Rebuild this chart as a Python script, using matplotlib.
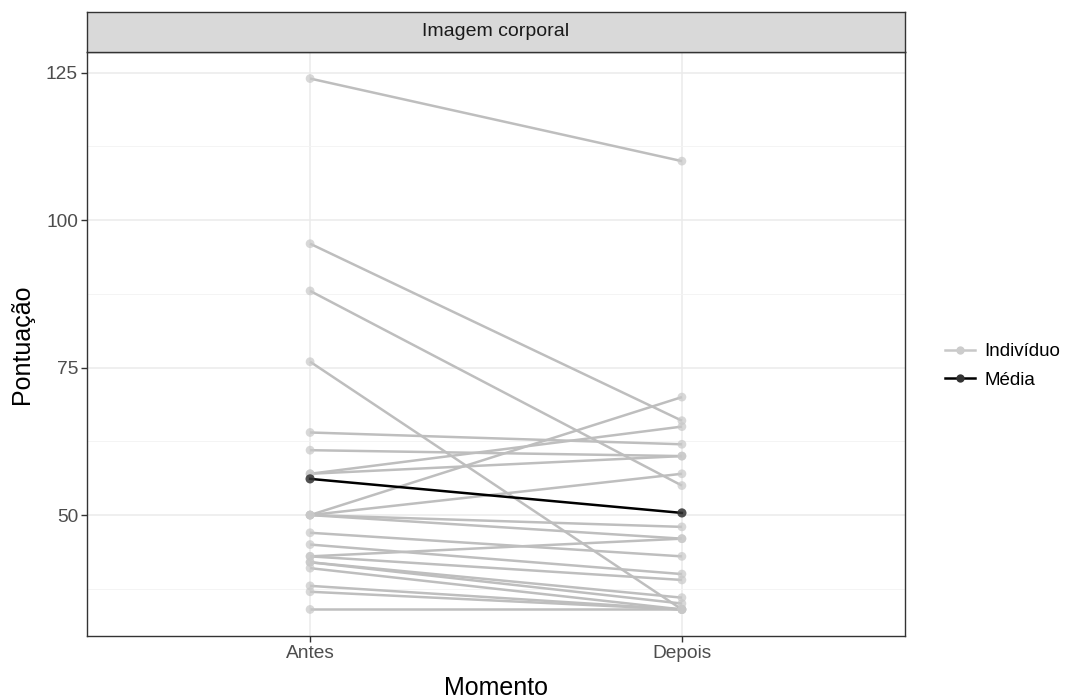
import matplotlib
matplotlib.use("Agg")
import matplotlib.pyplot as plt
from matplotlib.lines import Line2D
import numpy as np

plt.rcParams['font.family'] = ['Liberation Sans', 'DejaVu Sans']

# dados
momentos = ["Antes", "Depois"]
antes = [124, 96, 88, 76, 64, 61, 57, 57, 50, 50, 50, 50, 47, 45, 43, 43, 42, 42, 41, 38, 37, 34]
depois = [110, 66, 55, 34, 62, 60, 65, 60, 70, 57, 48, 46, 43, 40, 46, 39, 36, 35, 34, 34, 34, 34]
y_ticks = [50, 75, 100, 125]
titulo_painel = "Imagem corporal"

W, H = 1068, 698
fig = plt.figure(figsize=(W / 100, H / 100), dpi=100)

def px_axes(x0, y0, x1, y1):
    # coordenadas em pixels (origem no topo)
    return fig.add_axes([x0 / W, 1 - y1 / H, (x1 - x0) / W, (y1 - y0) / H])

ax = px_axes(87, 52, 905, 636)
strip = px_axes(87, 12, 905, 52)

xs = np.arange(1, len(momentos) + 1)
cinza = "#BEBEBE"
for a, d in zip(antes, depois):
    ax.plot(xs, [a, d], color=cinza, lw=1.8, zorder=2, solid_capstyle="butt")
    ax.scatter(xs, [a, d], s=40, color="#C8C8C8", alpha=0.7, edgecolors="none", zorder=3)

media = [np.mean(antes), np.mean(depois)]
ax.plot(xs, media, color="black", lw=1.8, zorder=4)
ax.scatter(xs, media, s=44, color="#333333", alpha=0.85, edgecolors="none", zorder=5)

ymin, ymax = min(antes + depois), max(antes + depois)
pad = (ymax - ymin) * 0.05
ax.set_ylim(ymin - pad, ymax + pad)
ax.set_xlim(0.4, 2.6)
ax.set_xticks(xs)
ax.set_xticklabels(momentos)
ax.set_yticks(y_ticks)
ax.set_yticks([37.5, 62.5, 87.5, 112.5], minor=True)
ax.grid(True, which="major", color="#EBEBEB", lw=1.1, zorder=0)
ax.grid(True, which="minor", axis="y", color="#F3F3F3", lw=0.6, zorder=0)
ax.set_axisbelow(True)
for s in ax.spines.values():
    s.set_color("#333333")
    s.set_linewidth(1.0)
ax.tick_params(axis="both", which="major", labelsize=13.8, labelcolor="#4D4D4D",
               color="#333333", length=4, width=1, pad=2.5)
ax.tick_params(axis="both", which="minor", length=0)

fig.text(496 / W, 1 - 688 / H, "Momento", ha="center", va="center", fontsize=18, color="black")
fig.text(22 / W, 1 - 344 / H, "Pontuação", ha="center", va="center", fontsize=18,
         color="black", rotation=90)

strip.set_facecolor("#D9D9D9")
strip.set_xticks([])
strip.set_yticks([])
for s in strip.spines.values():
    s.set_color("#333333")
    s.set_linewidth(1.0)
strip.text(0.5, 0.5, titulo_painel, ha="center", va="center", fontsize=14,
           color="#1A1A1A", transform=strip.transAxes)

handles = [
    Line2D([0], [0], color="#C8C8C8", lw=1.8, marker="o", markersize=6,
           markerfacecolor="#CCCCCC", markeredgecolor="none"),
    Line2D([0], [0], color="black", lw=1.8, marker="o", markersize=6,
           markerfacecolor="#333333", markeredgecolor="none"),
]
fig.legend(handles, ["Indivíduo", "Média"], loc="center left",
           bbox_to_anchor=(945 / W, 1 - 366 / H), frameon=False, fontsize=13.5,
           borderpad=0, borderaxespad=0,
           handlelength=1.6, handletextpad=0.5, labelspacing=0.62)

fig.savefig("out.png", dpi=100)
